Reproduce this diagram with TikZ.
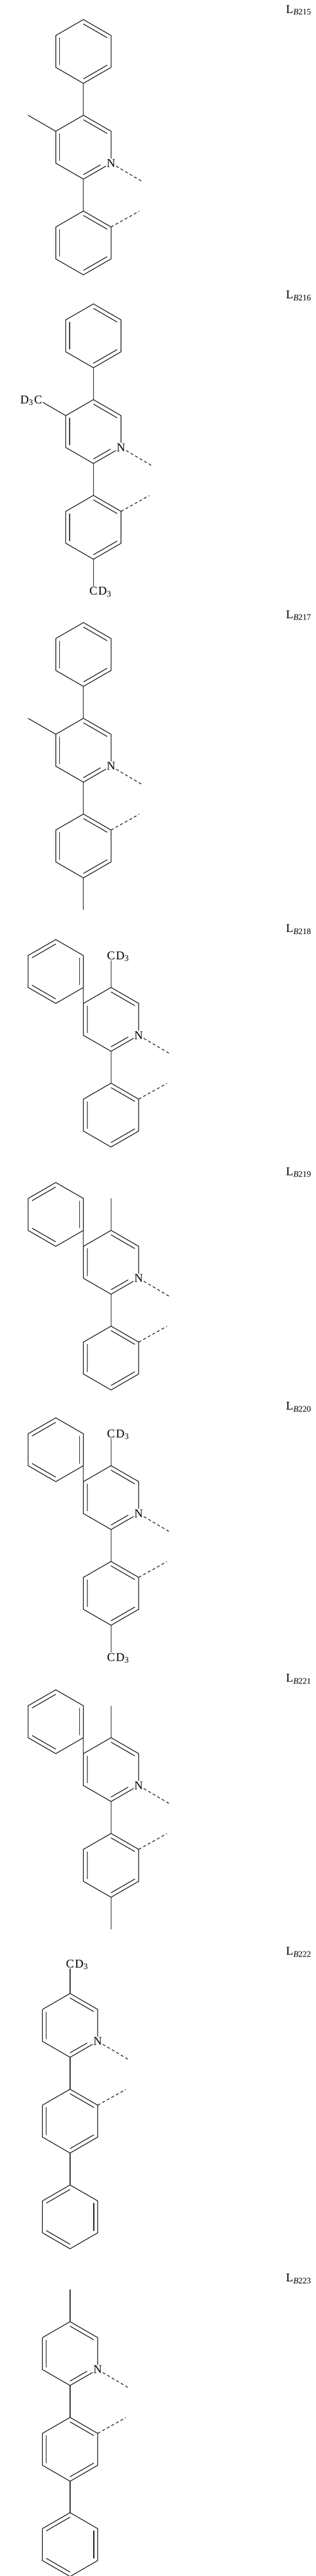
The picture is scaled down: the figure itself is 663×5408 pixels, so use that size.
\documentclass[tikz,border=0pt]{standalone}
\usepackage{fontspec}
\setmainfont{Liberation Serif}
\usetikzlibrary{calc}
\tikzset{
  bond/.style={line width=1.3pt, line join=miter},
  dbond/.style={line width=1.3pt, dash pattern=on 6pt off 5pt},
  atom/.style={font=\fontsize{25}{30}\selectfont, inner sep=1.5pt},
  sub/.style={font=\fontsize{25}{30}\selectfont, inner sep=0pt, anchor=base west},
  lbl/.style={font=\fontsize{25}{30}\selectfont, inner sep=0pt, anchor=west}
}
\newcommand\hexcoords[3]{%
  \coordinate (#1c) at (#2,#3);
  \coordinate (#1T) at (#2,#3-67);
  \coordinate (#1UR) at (#2+58,#3-33.5);
  \coordinate (#1LR) at (#2+58,#3+33.5);
  \coordinate (#1B) at (#2,#3+67);
  \coordinate (#1LL) at (#2-58,#3+33.5);
  \coordinate (#1UL) at (#2-58,#3-33.5);}
\newcommand\inl[3]{\draw[bond] ($(#1c)!0.86!(#1#2)$) -- ($(#1c)!0.86!(#1#3)$);}
\newcommand\ringA[3]{\hexcoords{#1}{#2}{#3}
  \draw[bond] (#1T)--(#1UR)--(#1LR)--(#1B)--(#1LL)--(#1UL)--cycle;
  \inl{#1}{T}{UR}\inl{#1}{LR}{B}\inl{#1}{LL}{UL}}
\newcommand\ringB[3]{\hexcoords{#1}{#2}{#3}
  \draw[bond] (#1T)--(#1UR)--(#1LR)--(#1B)--(#1LL)--(#1UL)--cycle;
  \inl{#1}{T}{UL}\inl{#1}{UR}{LR}\inl{#1}{B}{LL}}
% pyridine core + lower ring + dashed bonds
\newcommand\core[3]{\hexcoords{#1}{#2}{#3}
  \node[atom] (#1N) at (#1LR) {N};
  \draw[bond] (#1UL)--(#1T)--(#1UR)--(#1N);
  \draw[bond] (#1N)--(#1B)--(#1LL)--(#1UL);
  \inl{#1}{T}{UR}\inl{#1}{LL}{UL}
  \draw[bond] ($(#1c)!0.86!(#1B)$) -- ($($(#1c)!0.86!(#1B)$)!0.72!($(#1c)!0.86!(#1LR)$)$);
  \coordinate (#1Nd) at ($(#1LR)+(66,39)$);
  \draw[dbond] (#1N) -- (#1Nd);
  \ringA{#1q}{#2}{#3+201}
  \draw[bond] (#1B)--(#1qT);
  \coordinate (#1qd) at ($(#1qUR)+(59,-33)$);
  \draw[dbond] (#1qUR) -- (#1qd);}
\newcommand\topph[1]{\path let \p1=(#1c) in coordinate (#1pc) at (\x1,\y1); \ringA{#1p}{0}{0}}
\begin{document}
\begin{tikzpicture}[x=1pt,y=-1pt]
\useasboundingbox (0,0) rectangle (663,5408);
% ---- L215
\node[lbl] (l215) at (600,21) {L\textsubscript{\textit{B}215}};
\core{a}{175}{309}
\coordinate (am) at ($(aUL)+(-58,-33.5)$); \draw[bond] (aUL)--(am);
\ringA{ap}{175}{108} \draw[bond] (aT)--(apB);
% ---- L216
\node[lbl] (l216) at (600,621) {L\textsubscript{\textit{B}216}};
\core{b}{196}{906}
\coordinate (bm) at ($(bUL)+(-58,-33.5)$);
\node[atom] (bmC) at (bm) {C};
\node[atom,anchor=base east,inner sep=0pt] (bmD) at (bmC.base west) {D\textsubscript{3}};
\draw[bond] (bUL)--(bmC);
\ringA{bp}{196}{705} \draw[bond] (bT)--(bpB);
\coordinate (bz) at ($(bqB)+(0,67)$);
\node[atom] (bzC) at (bz) {C}; \node[sub] (bzD) at (bzC.base east) {D\textsubscript{3}};
\draw[bond] (bqB)--(bzC);
% ---- L217
\node[lbl] (l217) at (600,1292) {L\textsubscript{\textit{B}217}};
\core{c}{175}{1575}
\coordinate (cm) at ($(cUL)+(-58,-33.5)$); \draw[bond] (cUL)--(cm);
\ringA{cp}{175}{1374} \draw[bond] (cT)--(cpB);
\coordinate (cz) at ($(cqB)+(0,67)$); \draw[bond] (cqB)--(cz);
% ---- L218
\node[lbl] (l218) at (600,1951) {L\textsubscript{\textit{B}218}};
\core{d}{233}{2140}
\coordinate (dm) at ($(dT)+(0,-67)$);
\node[atom] (dmC) at (dm) {C}; \node[sub] (dmD) at (dmC.base east) {D\textsubscript{3}};
\draw[bond] (dT)--(dmC);
\ringB{ds}{117}{2039.5} \draw[bond] (dUL)--(dsLR);
% ---- L219
\node[lbl] (l219) at (600,2461) {L\textsubscript{\textit{B}219}};
\core{e}{233}{2650}
\coordinate (em) at ($(eT)+(0,-67)$); \draw[bond] (eT)--(em);
\ringB{es}{117}{2549.5} \draw[bond] (eUL)--(esLR);
% ---- L220
\node[lbl] (l220) at (600,2954) {L\textsubscript{\textit{B}220}};
\core{f}{233}{3144}
\coordinate (fm) at ($(fT)+(0,-67)$);
\node[atom] (fmC) at (fm) {C}; \node[sub] (fmD) at (fmC.base east) {D\textsubscript{3}};
\draw[bond] (fT)--(fmC);
\ringB{fs}{117}{3043.5} \draw[bond] (fUL)--(fsLR);
\coordinate (fz) at ($(fqB)+(0,67)$);
\node[atom] (fzC) at (fz) {C}; \node[sub] (fzD) at (fzC.base east) {D\textsubscript{3}};
\draw[bond] (fqB)--(fzC);
% ---- L221
\node[lbl] (l221) at (600,3525) {L\textsubscript{\textit{B}221}};
\core{g}{233}{3715}
\coordinate (gm) at ($(gT)+(0,-67)$); \draw[bond] (gT)--(gm);
\ringB{gs}{117}{3614.5} \draw[bond] (gUL)--(gsLR);
\coordinate (gz) at ($(gqB)+(0,67)$); \draw[bond] (gqB)--(gz);
% ---- L222
\node[lbl] (l222) at (600,4098) {L\textsubscript{\textit{B}222}};
\core{h}{147}{4252}
\coordinate (hm) at ($(hT)+(0,-62)$);
\node[atom] (hmC) at (hm) {C}; \node[sub] (hmD) at (hmC.base east) {D\textsubscript{3}};
\draw[bond] (hT)--(hmC);
\ringB{hr}{147}{4654} \draw[bond] (hqB)--(hrT);
% ---- L223
\node[lbl] (l223) at (600,4784) {L\textsubscript{\textit{B}223}};
\core{k}{147}{4941}
\coordinate (km) at ($(kT)+(0,-67)$); \draw[bond] (kT)--(km);
\ringB{kr}{147}{5342} \draw[bond] (kqB)--(krT);
\end{tikzpicture}
\end{document}
